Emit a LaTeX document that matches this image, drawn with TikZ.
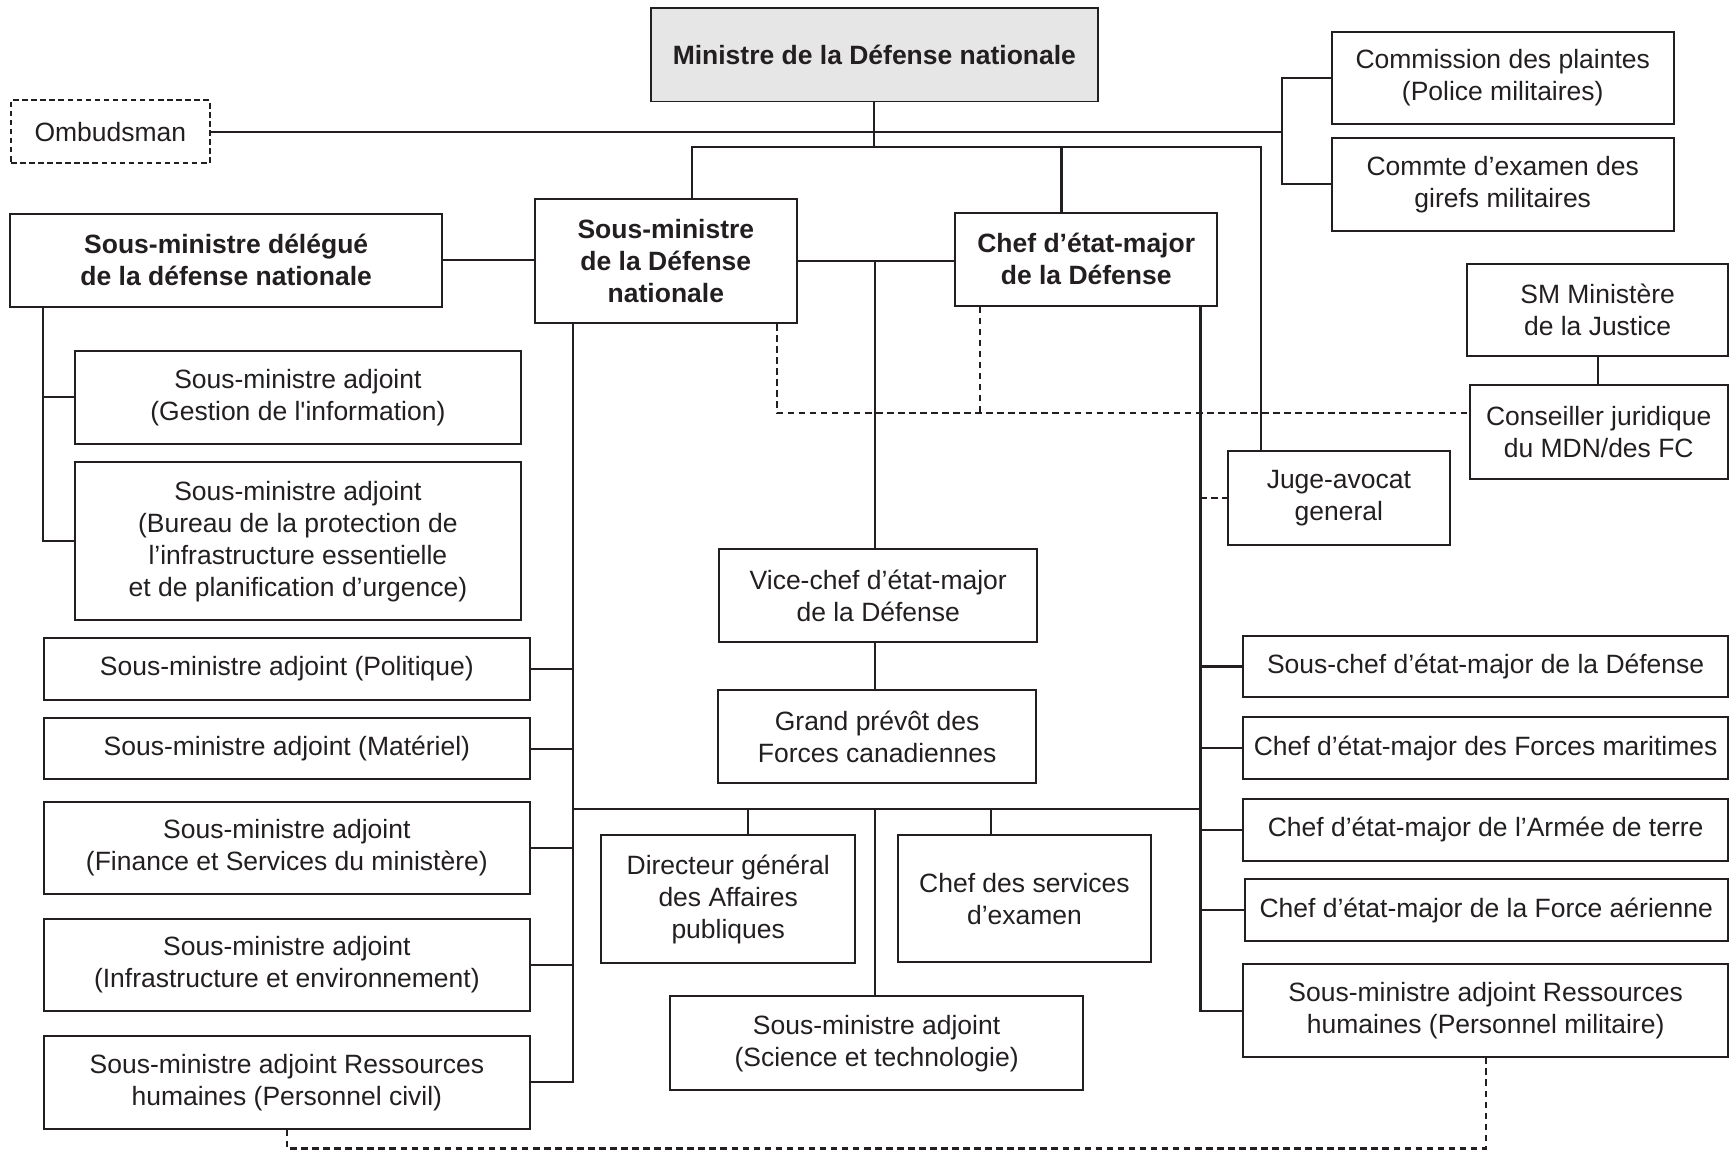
\documentclass[tikz,border=0pt]{standalone}
\usepackage{fontspec}
\newfontfamily\mainf{Liberation Sans}
\definecolor{ink}{HTML}{231F20}
\definecolor{minfill}{HTML}{E6E6E7}
% \obox{style}{name}{x1}{y1}{x2}{y2}{text}
\newcommand\obox[7]{\node[#1, minimum width={(#5-#3)*0.5pt}, minimum height={(#6-#4)*0.5pt}] (#2) at ({(#3+#5)/2},{(#4+#6)/2}) {#7};}
\begin{document}
\begin{tikzpicture}[x=0.5pt,y=-0.5pt,
  box/.style={draw=ink, line width=0.9pt, inner sep=0pt, align=center,
    font=\mainf\fontsize{12}{14.5}\selectfont, text=ink},
  bbox/.style={box, font=\mainf\bfseries\fontsize{12}{14.5}\selectfont},
  dbox/.style={box, dash pattern=on 2.5pt off 1.6pt},
  conn/.style={draw=ink, line width=1pt},
  dashline/.style={draw=ink, line width=1pt, dash pattern=on 3pt off 2pt}]
\useasboundingbox (0,0) rectangle (1568,1043);
\fill[white] (0,0) rectangle (1568,1043);

% nodes
\obox{bbox, fill=minfill}{min}{590}{7}{995}{92}{Ministre de la Défense nationale}
\obox{dbox}{omb}{10}{91}{190}{148}{Ombudsman}
\obox{box}{cp}{1207}{29}{1517}{112}{Commission des plaintes\\(Police militaires)}
\obox{box}{ceg}{1207}{125}{1517}{209}{Commte d’examen des\\girefs militaires}
\obox{bbox}{smd}{9}{194}{401}{278}{Sous-ministre délégué\\de la défense nationale}
\obox{bbox}{sm}{485}{180}{722}{293}{Sous-ministre\\de la Défense\\nationale}
\obox{bbox}{cemd}{866}{193}{1103}{277}{Chef d’état-major\\de la Défense}
\obox{box}{smj}{1330}{239}{1566}{323}{SM Ministère\\de la Justice}
\obox{box}{cj}{1332}{349}{1566}{434}{Conseiller juridique\\du MDN/des FC}
\obox{box}{jag}{1113}{409}{1314}{494}{Juge-avocat\\general}
\obox{box}{gi}{68}{318}{472}{402}{Sous-ministre adjoint\\(Gestion de l'information)}
\obox{box}{bp}{68}{419}{472}{562}{Sous-ministre adjoint\\(Bureau de la protection de\\l’infrastructure essentielle\\et de planification d’urgence)}
\obox{box}{pol}{40}{578}{480}{634}{Sous-ministre adjoint (Politique)}
\obox{box}{mat}{40}{651}{480}{706}{Sous-ministre adjoint (Matériel)}
\obox{box}{fin}{40}{727}{480}{810}{Sous-ministre adjoint\\(Finance et Services du ministère)}
\obox{box}{inf}{40}{833}{480}{916}{Sous-ministre adjoint\\(Infrastructure et environnement)}
\obox{box}{rhc}{40}{939}{480}{1023}{Sous-ministre adjoint Ressources\\humaines (Personnel civil)}
\obox{box}{vc}{652}{498}{940}{582}{Vice-chef d’état-major\\de la Défense}
\obox{box}{gp}{651}{625}{939}{710}{Grand prévôt des\\Forces canadiennes}
\obox{box}{dg}{545}{757}{775}{873}{Directeur général\\des Affaires\\publiques}
\obox{box}{cse}{814}{757}{1043}{872}{Chef des services\\d’examen}
\obox{box}{st}{607}{903}{982}{988}{Sous-ministre adjoint\\(Science et technologie)}
\obox{box}{sc}{1127}{576}{1566}{632}{Sous-chef d’état-major de la Défense}
\obox{box}{fm}{1127}{650}{1566}{706}{Chef d’état-major des Forces maritimes}
\obox{box}{at}{1127}{724}{1566}{780}{Chef d’état-major de l’Armée de terre}
\obox{box}{fa}{1128}{797}{1566}{853}{Chef d’état-major de la Force aérienne}
\obox{box}{rhm}{1127}{874}{1566}{958}{Sous-ministre adjoint Ressources\\humaines (Personnel militaire)}

% coordinates for junctions
\coordinate (tA) at (627,133);
\coordinate (tB) at (962,133);
\coordinate (tC) at (1143,133);
\coordinate (om) at (1162,119);
\coordinate (vx) at (793,236);
\coordinate (dl) at (39,0);
\coordinate (lt) at (519,0);
\coordinate (rt) at (1088,0);
\coordinate (bb) at (0,733);
\coordinate (dgx) at (678,733);
\coordinate (csx) at (898,733);
\coordinate (stx) at (793,733);
\coordinate (dj) at (704,374);
\coordinate (dc) at (888,374);

% solid connectors
\draw[conn] (min.south) -- (min.south |- tA);
\draw[conn] (omb.east) -- (omb.east -| om);
\draw[conn] (cp.west) -- (cp.west -| om) -- (ceg.west -| om) -- (ceg.west);
\draw[conn] (sm.north -| tA) -- (tA) -- (tC) -- (tC |- jag.north);
\draw[conn] (cemd.north -| tB) -- (tB);
\draw[conn] (smd.east) -- (smd.east -| sm.west);
\draw[conn] (sm.east) -- (sm.east -| cemd.west);
\draw[conn] (vx) -- (vx |- vc.north);
\draw[conn] (vc.south -| vx) -- (vx |- gp.north);
\draw[conn] (smd.south -| dl) |- (bp.west);
\draw[conn] (gi.west) -- (gi.west -| dl);
\draw[conn] (sm.south -| lt) |- (rhc.east);
\foreach \n in {pol,mat,fin,inf} \draw[conn] (\n.east) -- (\n.east -| lt);
\draw[conn] (cemd.south -| rt) |- (rhm.west);
\foreach \n in {sc,fm,at,fa} \draw[conn] (\n.west) -- (\n.west -| rt);
\draw[conn] (lt |- bb) -- (rt |- bb);
\draw[conn] (dgx) -- (dgx |- dg.north);
\draw[conn] (csx) -- (csx |- cse.north);
\draw[conn] (stx) -- (stx |- st.north);
\draw[conn] (smj.south) -- (smj.south |- cj.north);

% dashed connectors
\draw[dashline] (sm.south -| dj) -- (dj) -- (dj -| cj.west);
\draw[dashline] (cemd.south -| dc) -- (dc);
\draw[dashline] (jag.west -| rt) -- (jag.west);
\draw[dashline] (rhc.south) -- ++(0,17) -| (rhm.south);
\end{tikzpicture}
\end{document}
